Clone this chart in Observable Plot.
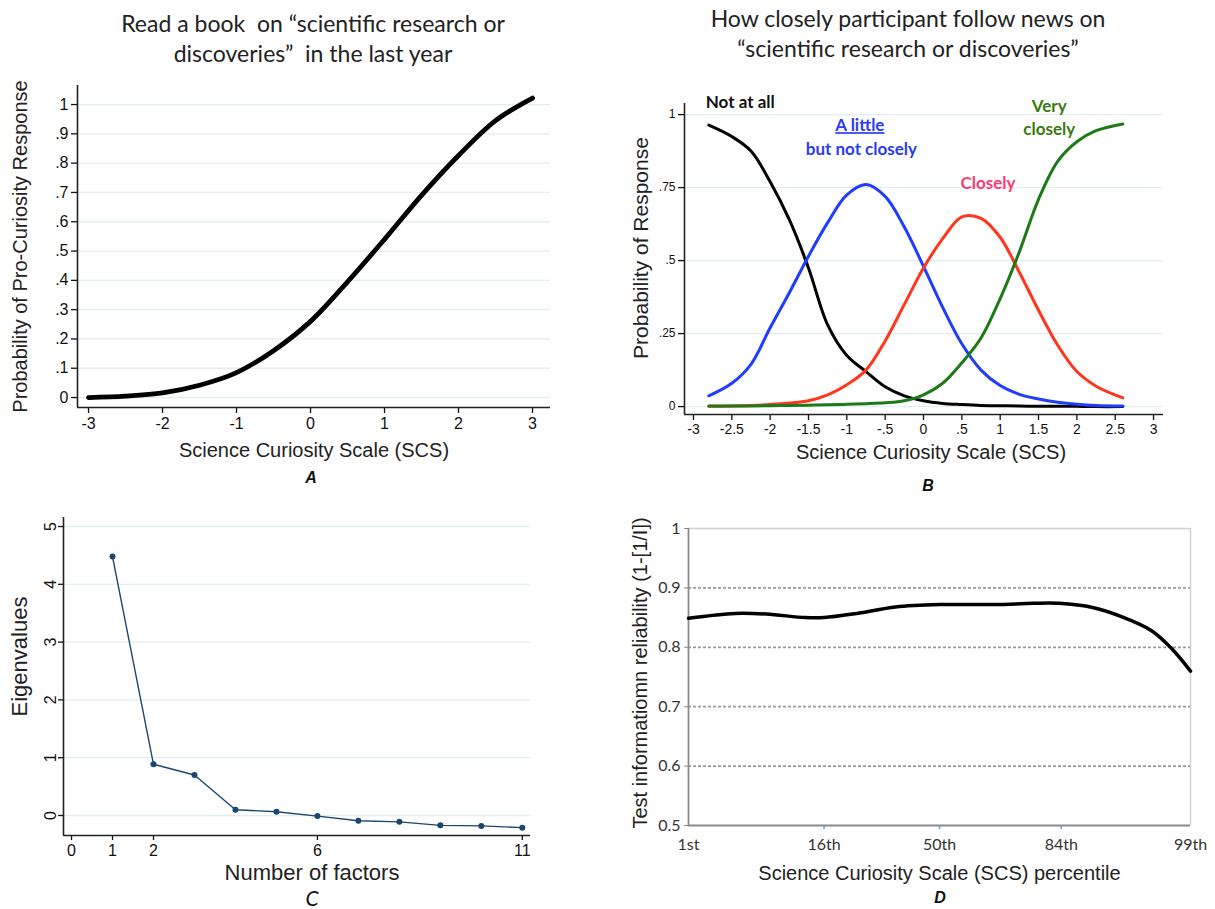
<!DOCTYPE html>
<html><head><meta charset="utf-8">
<script src="https://cdn.jsdelivr.net/npm/d3@7"></script>
<script src="https://cdn.jsdelivr.net/npm/@observablehq/plot@0.6"></script>
<style>
body{margin:0;background:#fff;}
#wrap{position:relative;width:1215px;height:909px;overflow:hidden;background:#fff;font-family:"Liberation Sans",Arial,sans-serif;}
.panel{position:absolute;}
.panel svg{overflow:visible;}
.title{position:absolute;font-family:Lato,"Open Sans",sans-serif;font-size:23px;color:#222;text-align:center;line-height:30px;white-space:pre;transform:translateX(-50%);}
.letter{position:absolute;font-family:"Liberation Sans",Arial,sans-serif;font-weight:bold;font-style:italic;font-size:16px;color:#111;transform:translate(-50%,-50%);}
</style></head><body><div id="wrap"></div>
<script>
// ---------- Panel A data ----------
const aTitle = ["Read a book  on \u201cscientific research or", "discoveries\u201d  in the last year"];
const aX = [-3, -2.5, -2, -1.5, -1, -0.5, 0, 0.5, 1, 1.5, 2, 2.5, 3];
const aP = [0.0, 0.005, 0.016, 0.042, 0.085, 0.16, 0.26, 0.395, 0.54, 0.69, 0.826, 0.945, 1.022];
const aXTicks = [-3, -2, -1, 0, 1, 2, 3];
const aYTicks = [0, 0.1, 0.2, 0.3, 0.4, 0.5, 0.6, 0.7, 0.8, 0.9, 1];

// ---------- Panel B data ----------
const bTitle = ["How closely participant follow news on", "\u201cscientific research or discoveries\u201d"];
const bX =           [-2.8, -2.5, -2.25, -2, -1.75, -1.5, -1.25, -1, -0.75, -0.5, -0.25, 0, 0.25, 0.5, 0.75, 1, 1.25, 1.5, 1.75, 2, 2.25, 2.6];
const bNotAtAll =    [0.964, 0.925, 0.875, 0.77, 0.64, 0.475, 0.28, 0.175, 0.12, 0.068, 0.037, 0.02, 0.011, 0.007, 0.004, 0.003, 0.002, 0.001, 0.001, 0.001, 0.0, 0.0];
const bALittle =     [0.037, 0.08, 0.145, 0.27, 0.39, 0.515, 0.63, 0.725, 0.761, 0.72, 0.615, 0.48, 0.34, 0.215, 0.125, 0.072, 0.042, 0.026, 0.015, 0.008, 0.004, 0.002];
const bClosely =     [0.001, 0.002, 0.004, 0.007, 0.012, 0.02, 0.04, 0.075, 0.125, 0.225, 0.35, 0.475, 0.575, 0.65, 0.645, 0.58, 0.46, 0.33, 0.21, 0.12, 0.07, 0.03];
const bVeryClosely = [0.002, 0.002, 0.002, 0.003, 0.004, 0.005, 0.006, 0.008, 0.01, 0.013, 0.02, 0.04, 0.08, 0.15, 0.235, 0.37, 0.53, 0.71, 0.84, 0.907, 0.945, 0.968];
const bSeries = ["Not at all", "A little", "Closely", "Very closely"];
const bColors = ["#000000", "#1f3cff", "#ff361c", "#1c7a17"];
const bXTicks = [-3, -2.5, -2, -1.5, -1, -0.5, 0, 0.5, 1, 1.5, 2, 2.5, 3];
const bYTicks = [0, 0.25, 0.5, 0.75, 1];
const bNoteText = ["Not at all", "A little", "but not closely", "Closely", "Very", "closely"];
const bNoteColor = ["#111111", "#2a3cf0", "#2a3cf0", "#ff3a6e", "#3a7a10", "#3a7a10"];

// ---------- Panel C data ----------
const cFactors = [1, 2, 3, 4, 5, 6, 7, 8, 9, 10, 11];
const cEigen = [4.48, 0.886, 0.70, 0.10, 0.065, -0.01, -0.09, -0.11, -0.17, -0.18, -0.21];
const cXTicks = [0, 1, 2, 6, 11];
const cYTicks = [0, 1, 2, 3, 4, 5];

// ---------- Panel D data ----------
const dX =   [0, 0.37, 0.62, 0.93, 1.08, 1.34, 1.65, 2, 2.44, 2.75, 2.95, 3.22, 3.47, 3.69, 3.84, 4];
const dRel = [0.849, 0.857, 0.856, 0.850, 0.850, 0.857, 0.868, 0.872, 0.872, 0.874, 0.874, 0.867, 0.850, 0.828, 0.80, 0.76];
const dTickPos = [0, 1.08, 2, 2.97, 4];
const dTickLabels = ["1st", "16th", "50th", "84th", "99th"];
const dYTicks = [0.5, 0.6, 0.7, 0.8, 0.9, 1];
const dGrid = [0.6, 0.7, 0.8, 0.9];

// ---------- helpers ----------
const wrap = document.getElementById("wrap");
function place(el, left, top) {
  const d = document.createElement("div");
  d.className = "panel"; d.style.left = left + "px"; d.style.top = top + "px";
  d.appendChild(el); wrap.appendChild(d); return d;
}
function addText(cls, text, left, top, extra) {
  const d = document.createElement("div");
  d.className = cls; d.textContent = text; d.style.left = left + "px"; d.style.top = top + "px";
  if (extra) Object.assign(d.style, extra);
  wrap.appendChild(d);
}
const stataFmt = d => {
  if (d === 0) return "0";
  const s = String(+d.toFixed(2));
  return s.replace(/^(-?)0\./, "$1.");
};
const baseStyle = {fontFamily: "'Liberation Sans', Arial, sans-serif", color: "#111", background: "transparent", overflow: "visible"};
const yTitle = (t, dx, dy, fs) => Plot.text([t], {text: d => d, frameAnchor: "left", textAnchor: "middle", lineAnchor: "middle", rotate: -90, dx, dy, fontSize: fs, fill: "#222"});
const xTitle = (t, dx, dy, fs) => Plot.text([t], {text: d => d, frameAnchor: "bottom", textAnchor: "middle", lineAnchor: "middle", dx, dy, fontSize: fs, fill: "#222"});

// ---------- Panel A ----------
const aRows = aX.map((x, i) => ({x, p: aP[i]}));
const aXDom = [-3.149, 3.243], aYDom = [-0.034, 1.065];
const plotA = Plot.plot({
  width: 570, height: 415, marginLeft: 77, marginRight: 20, marginTop: 10, marginBottom: 83,
  style: {...baseStyle, fontSize: "16px"},
  x: {domain: aXDom}, y: {domain: aYDom},
  marks: [
    Plot.gridY(aYTicks, {stroke: "#e3eef0", strokeOpacity: 1, strokeWidth: 1.3}),
    Plot.axisY(aYTicks, {tickSize: 6, tickPadding: 3, tickFormat: stataFmt, label: null, fontSize: 16, strokeWidth: 1.3}),
    Plot.axisX(aXTicks, {tickSize: 6, tickPadding: 4, tickFormat: d => String(d), label: null, fontSize: 16, strokeWidth: 1.3}),
    Plot.ruleX([aXDom[0]], {stroke: "#222", strokeWidth: 1.6}),
    Plot.ruleY([aYDom[0]], {stroke: "#222", strokeWidth: 1.6}),
    Plot.line(aRows, {x: "x", y: "p", stroke: "#000", strokeWidth: 4.8, curve: "catmull-rom"}),
    yTitle("Probability of Pro-Curiosity Response", -57, 0, 20),
    xTitle("Science Curiosity Scale (SCS)", 0, 43, 20)
  ]
});
place(plotA, 0, 75);

// ---------- Panel B ----------
const bValues = [bNotAtAll, bALittle, bClosely, bVeryClosely];
const bRows = bSeries.flatMap((s, k) => bX.map((x, i) => ({x, p: bValues[k][i], s})));
const bNotes = [
  {t: bNoteText[0], x: -2.39, y: 1.041, c: bNoteColor[0]},
  {t: bNoteText[1], x: -0.83, y: 0.962, c: bNoteColor[1]},
  {t: bNoteText[2], x: -0.81, y: 0.88, c: bNoteColor[2]},
  {t: bNoteText[3], x: 0.84, y: 0.764, c: bNoteColor[3]},
  {t: bNoteText[4], x: 1.64, y: 1.027, c: bNoteColor[4]},
  {t: bNoteText[5], x: 1.64, y: 0.949, c: bNoteColor[5]}
];
const bXDom = [-3.117, 3.13], bYDom = [-0.027, 1.038];
const plotB = Plot.plot({
  width: 600, height: 415, marginLeft: 84, marginRight: 37, marginTop: 28, marginBottom: 76,
  style: {...baseStyle, fontSize: "14px"},
  x: {domain: bXDom}, y: {domain: bYDom},
  color: {domain: bSeries, range: bColors},
  marks: [
    Plot.gridY(bYTicks, {stroke: "#e3eef0", strokeOpacity: 1, strokeWidth: 1.3}),
    Plot.axisY(bYTicks, {tickSize: 6, tickPadding: 3, tickFormat: stataFmt, label: null, fontSize: 12, strokeWidth: 1.3}),
    Plot.axisX(bXTicks, {tickSize: 6, tickPadding: 4, tickFormat: stataFmt, label: null, fontSize: 14, strokeWidth: 1.3}),
    Plot.ruleX([bXDom[0]], {stroke: "#222", strokeWidth: 1.6}),
    Plot.ruleY([bYDom[0]], {stroke: "#222", strokeWidth: 1.6}),
    Plot.line(bRows, {x: "x", y: "p", z: "s", stroke: "s", strokeWidth: 3, curve: "catmull-rom"}),
    Plot.text(bNotes, {x: "x", y: "y", text: "t", fill: "c", fontSize: 17, fontWeight: "bold", fontFamily: "Lato, 'Open Sans', sans-serif"}),
    yTitle("Probability of Response", -43, -11, 21),
    xTitle("Science Curiosity Scale (SCS)", 7, 38, 20)
  ]
});
d3.select(plotB).selectAll("text").filter(function() { return this.textContent === "A little"; }).attr("text-decoration", "underline");
place(plotB, 600, 75);

// ---------- Panel C ----------
const cRows = cFactors.map((f, i) => ({f, e: cEigen[i]}));
const cXDom = [-0.196, 11.2], cYDom = [-0.346, 5.156];
const cColor = "#1a476f";
const plotC = Plot.plot({
  width: 560, height: 414, marginLeft: 63, marginRight: 30, marginTop: 22, marginBottom: 74,
  style: {...baseStyle, fontSize: "16px"},
  x: {domain: cXDom}, y: {domain: cYDom},
  marks: [
    Plot.gridY(cYTicks, {stroke: "#e3eef0", strokeOpacity: 1, strokeWidth: 1.3}),
    Plot.axisY(cYTicks, {tickSize: 5, tickPadding: 3, tickRotate: -90, tickFormat: d => String(d), label: null, fontSize: 16, strokeWidth: 1.3}),
    Plot.axisX(cXTicks, {tickSize: 5, tickPadding: 4, tickFormat: d => String(d), label: null, fontSize: 16, strokeWidth: 1.3}),
    Plot.ruleX([cXDom[0]], {stroke: "#222", strokeWidth: 1.6}),
    Plot.ruleY([cYDom[0]], {stroke: "#222", strokeWidth: 1.6}),
    Plot.line(cRows, {x: "f", y: "e", stroke: cColor, strokeWidth: 1.4}),
    Plot.dot(cRows, {x: "f", y: "e", fill: cColor, r: 3}),
    yTitle("Eigenvalues", -44, -20, 22),
    xTitle("Number of factors", 15, 37, 22)
  ]
});
place(plotC, 0, 495);

// ---------- Panel D ----------
const dRows = dX.map((x, i) => ({x, r: dRel[i]}));
const dXDom = [0, 4], dYDom = [0.5, 1];
const plotD = Plot.plot({
  width: 615, height: 414, marginLeft: 88, marginRight: 25, marginTop: 33, marginBottom: 84,
  style: {...baseStyle, fontSize: "16px"},
  x: {domain: dXDom}, y: {domain: dYDom},
  marks: [
    Plot.ruleY(dGrid, {stroke: "#9a9a9a", strokeWidth: 1.8, strokeDasharray: "3,2"}),
    Plot.ruleY([dYDom[1]], {stroke: "#d0d0d0", strokeWidth: 1.5}),
    Plot.ruleX([dXDom[1]], {stroke: "#d0d0d0", strokeWidth: 1.5}),
    Plot.ruleX([dXDom[0]], {stroke: "#8a8a8a", strokeWidth: 1.8}),
    Plot.ruleY([dYDom[0]], {stroke: "#8a8a8a", strokeWidth: 1.8}),
    Plot.axisY(dYTicks, {tickSize: 4, tickPadding: 4, tickFormat: d => String(d), label: null, fontSize: 16, stroke: "#8a8a8a", fill: "#333", fontFamily: "Lato, 'Open Sans', sans-serif"}),
    Plot.axisX(dTickPos.slice(1, 4), {tickSize: 4, text: null, label: null, stroke: "#6a9ad0", strokeWidth: 1.5}),
    Plot.axisX(dTickPos, {tickSize: 0, tickPadding: 13, tickFormat: (d, i) => dTickLabels[i], label: null, fontSize: 16, fill: "#333", fontFamily: "Lato, 'Open Sans', sans-serif"}),
    Plot.line(dRows, {x: "x", y: "r", stroke: "#000", strokeWidth: 3.5, curve: "catmull-rom"}),
    yTitle("Test informatiomn reliability (1-[1/I])", -48, -4, 20),
    xTitle("Science Curiosity Scale (SCS) percentile", 0, 48, 20)
  ]
});
place(plotD, 600, 495);

// ---------- titles and panel letters ----------
addText("title", aTitle.join("\n"), 313, 8);
addText("title", bTitle.join("\n"), 908, 3);
addText("letter", "A", 311, 478);
addText("letter", "B", 928, 486);
addText("letter", "C", 312, 897, {fontFamily: "Lato, sans-serif", fontWeight: "normal", fontSize: "21px"});
addText("letter", "D", 940, 898);
</script></body></html>
